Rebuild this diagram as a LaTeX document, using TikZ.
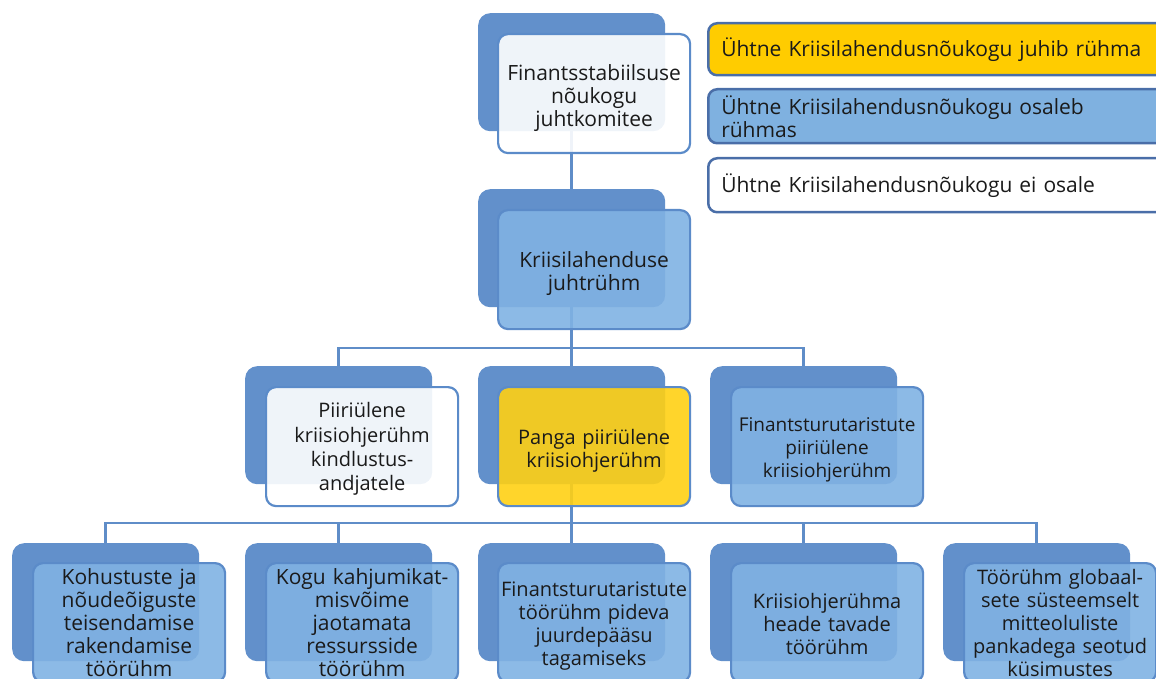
\documentclass[tikz,border=0pt]{standalone}
\usepackage{fontspec}
\setmainfont{Open Sans}
\definecolor{backblue}{HTML}{6290CB}
\definecolor{frontblue}{HTML}{80B2E3}
\definecolor{frontedge}{HTML}{5B8BC9}
\definecolor{linkblue}{HTML}{5F8DC8}
\definecolor{frontyellow}{HTML}{FFD014}
\definecolor{legyellow}{HTML}{FFCC00}
\definecolor{legblue}{HTML}{7FB1E0}
\definecolor{legedge}{HTML}{4A6EA8}
\definecolor{txt}{HTML}{1A1A1A}
\tikzset{
  backbox/.style={rectangle, rounded corners=12pt, fill=backblue, draw=none,
    minimum width=187pt, minimum height=118pt, anchor=north west, inner sep=0pt},
  frontbox/.style={rectangle, rounded corners=10pt, draw=frontedge, line width=2.2pt,
    fill=#1, fill opacity=0.9,
    minimum width=192pt, minimum height=119pt, anchor=north west, inner sep=0pt},
  boxtext/.style={text=txt, inner sep=0pt, text width=188pt, align=center,
    font=\fontsize{21}{23}\selectfont, yshift=-#1},
  boxtext/.default=0pt,
  fs20/.style={font=\fontsize{20}{23}\selectfont},
  fs20w/.style={font=\fontsize{20}{24.4}\selectfont},
  fs19/.style={font=\fontsize{19}{23}\selectfont},
  link/.style={draw=linkblue, line width=2.5pt},
  legbox/.style={rectangle, rounded corners=9pt, draw=legedge, line width=2.5pt,
    fill=#1, text=txt, anchor=north west, inner xsep=13pt, inner ysep=0pt,
    text width=440pt, align=left, font=\fontsize{21}{23}\selectfont},
}
\begin{document}
\begin{tikzpicture}[x=1pt,y=-1pt]
\useasboundingbox (0,0) rectangle (1156,679);
\clip (0,0) rectangle (1156,679);
% back boxes
\node[backbox] (a1b) at (478,13) {};
\node[backbox] (a2b) at (478,189) {};
\node[backbox] (c1b) at (245,366) {};
\node[backbox] (c2b) at (478,366) {};
\node[backbox] (c3b) at (710,366) {};
\node[backbox] (d1b) at (12,543) {};
\node[backbox] (d2b) at (245,543) {};
\node[backbox] (d3b) at (478,543) {};
\node[backbox] (d4b) at (710,543) {};
\node[backbox] (d5b) at (943,543) {};
% connectors
\coordinate (j1) at (571.5,348);
\coordinate (j2) at (571.5,523);
\draw[link] (a1b.south) -- (a2b.north);
\draw[link] (a2b.south) -- (c2b.north);
\draw[link] (j1) -| (c1b.north);
\draw[link] (j1) -| (c3b.north);
\draw[link] (c2b.south) -- (d3b.north);
\draw[link] (j2) -| (d1b.north);
\draw[link] (j2) -| (d2b.north);
\draw[link] (j2) -| (d4b.north);
\draw[link] (j2) -| (d5b.north);
% front boxes
\node[frontbox=white] (a1) at (497,33) {};
\node[frontbox=frontblue] (a2) at (497,209) {};
\node[frontbox=white] (c1) at (265,386) {};
\node[frontbox=frontyellow] (c2) at (497,386) {};
\node[frontbox=frontblue] (c3) at (730,386) {};
\node[frontbox=frontblue] (d1) at (32,562) {};
\node[frontbox=frontblue] (d2) at (265,562) {};
\node[frontbox=frontblue] (d3) at (497,562) {};
\node[frontbox=frontblue] (d4) at (730,562) {};
\node[frontbox=frontblue] (d5) at (963,562) {};
% texts
\node[boxtext=4pt] (a1t) at (a1.center) {Finantsstabiilsuse\\nõukogu\\juhtkomitee};
\node[boxtext=4pt] (a2t) at (a2.center) {Kriisilahenduse\\juhtrühm};
\node[boxtext=2.5pt, fs20w] (c1t) at (c1.center) {Piiriülene\\kriisiohjerühm\\kindlustus-\\andjatele};
\node[boxtext=4pt, fs20] (c2t) at (c2.center) {Panga piiriülene\\kriisiohjerühm};
\node[boxtext=3pt, fs19] (c3t) at (c3.center) {Finantsturutaristute\\piiriülene\\kriisiohjerühm};
\node[boxtext] (d1t) at (d1.center) {Kohustuste ja\\nõudeõiguste\\teisendamise\\rakendamise\\töörühm};
\node[boxtext] (d2t) at (d2.center) {Kogu kahjumikat-\\misvõime\\jaotamata\\ressursside\\töörühm};
\node[boxtext=3pt, fs20] (d3t) at (d3.center) {Finantsturutaristute\\töörühm pideva\\juurdepääsu\\tagamiseks};
\node[boxtext=1pt, fs20] (d4t) at (d4.center) {Kriisiohjerühma\\heade tavade\\töörühm};
\node[boxtext, fs20] (d5t) at (d5.center) {Töörühm globaal-\\sete süsteemselt\\mitteoluliste\\pankadega seotud\\küsimustes};
% legend
\node[legbox=legyellow, minimum height=52pt] (l1) at (707,22) {Ühtne Kriisilahendusnõukogu juhib rühma};
\node[legbox=legblue, minimum height=54pt] (l2) at (707,88) {Ühtne Kriisilahendusnõukogu osaleb\\rühmas};
\node[legbox=white, minimum height=54pt] (l3) at (707,157) {Ühtne Kriisilahendusnõukogu ei osale};
\end{tikzpicture}
\end{document}
